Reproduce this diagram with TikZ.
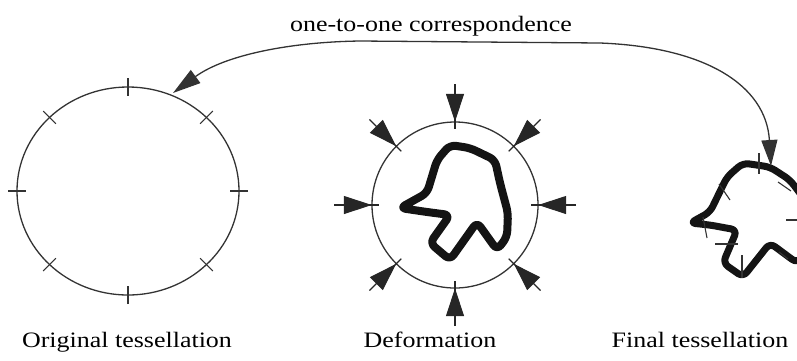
\documentclass[tikz,border=0pt]{standalone}
\usepackage{fontspec}
\newfontfamily\capfont{Liberation Serif}[FakeStretch=1.18]
\usetikzlibrary{arrows.meta, decorations.markings, calc}
\tikzset{->-/.style={decoration={markings, mark=at position #1 with {\arrow{Triangle[length=28pt,width=18pt]}}}, postaction={decorate}}}
\tikzset{caption/.style={font=\capfont\fontsize{22}{26}\selectfont, anchor=base, inner sep=0pt}}
\tikzset{rim/.style={draw=black!80, line width=1.3pt}}
\tikzset{blob/.style={draw=black!92, line width=8pt, line join=round, rounded corners=6pt}}

\begin{document}
\begin{tikzpicture}[x=1pt,y=-1pt]
\useasboundingbox (0,0) rectangle (797,360);
\clip (0,0) rectangle (797,360);
\coordinate (orig) at (128,191);
\coordinate (def) at (455,205);
% Original tessellation
\draw[rim] (orig) ellipse [x radius=111, y radius=104];
\foreach \a in {0,45,...,315}
  \draw[black!80, line width=1.1pt] ($(orig)+(\a:120 and 113)$) -- ($(orig)+(\a:102 and 95)$);
% Deformation
\draw[rim] (def) circle [radius=83];
\foreach \a in {0,45,...,315}
  \draw[black!85, line width=1.1pt, ->-=0.84] ($(def)+(\a:121)$) -- ($(def)+(\a:76)$);
\draw[blob] (400,208) -- (427,193) -- (437,160) -- (450,145) -- (470,148) -- (495,160)
  -- (500,183) -- (508,213) -- (507,237) -- (497,250) -- (477,222) -- (450,260)
  -- (430,243) -- (450,215) -- (427,212) -- cycle;
% Final tessellation
\draw[blob, line width=7pt] (690,223) -- (710,212) -- (727,177) -- (743,163) -- (770,167)
  -- (790,180) -- (805,200) -- (805,255) -- (797,263) -- (770,243) -- (743,277)
  -- (723,263) -- (737,230) -- (710,225) -- cycle;
\foreach \p/\q in {{(759,153)}/{(759,174)}, {(719,184)}/{(730,200)}, {(703,217)}/{(707,238)},
  {(715,244)}/{(738,244)}, {(742,255)}/{(742,278)}, {(778,182)}/{(791,191)},
  {(786,220)}/{(797,220)}, {(779,252)}/{(788,259)}}
  \draw[black!80, line width=1.1pt] \p -- \q;
% labels
\coordinate (origtop) at (173,93);
\coordinate (fintop) at (771,166);
\node[caption] (lorig) at (127,347) {Original tessellation};
\node[caption] (ldef) at (430,347) {Deformation};
\node[caption] (lfin) at (700,347) {Final tessellation};
\node[caption] (lmap) at (431,31) {one-to-one correspondence};
% correspondence
\draw[black!80, line width=1.3pt, {Triangle[length=28pt,width=16pt]}-{Triangle[length=26pt,width=16pt]}]
  (origtop) .. controls (225,55) and (290,42) .. (360,41) -- (600,43)
  .. controls (705,47) and (766,85) .. (fintop);
\end{tikzpicture}
\end{document}
